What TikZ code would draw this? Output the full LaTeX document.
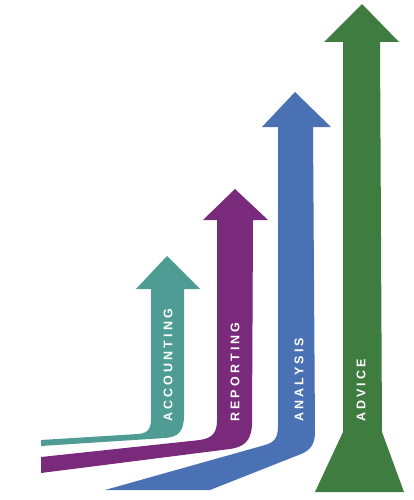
\documentclass[tikz,border=0pt]{standalone}
\usepackage{fontspec}
\setmainfont{Liberation Sans}
\newfontfamily\steplabelfont[LetterSpace=25]{Liberation Sans}
\usepackage{tikz}
\usetikzlibrary{positioning,calc}
\definecolor{acctcol}{HTML}{4E9C93}
\definecolor{repcol}{HTML}{7A2A7B}
\definecolor{anacol}{HTML}{4A71B4}
\definecolor{advcol}{HTML}{3E7D3F}

\begin{document}
\begin{tikzpicture}[x=1pt, y=-1pt,
    steplabel/.style={white, rotate=90, anchor=west, inner sep=0pt,
      font=\steplabelfont\bfseries\fontsize{12.5}{14}\selectfont}]
  \useasboundingbox (0,0) rectangle (414,500);
  % accounting
  \fill[acctcol] (41,440) -- (138,434) .. controls (149,433) and (151,428) .. (151,418)
    -- (151,289) -- (136,289) -- (167,256) -- (200,289) -- (184,289) -- (184,415)
    .. controls (184,432) and (178,437) .. (165,438) -- (41,446) -- cycle;
  % reporting
  \fill[repcol] (41,457) -- (200,440) .. controls (213,438) and (217,432) .. (217,420)
    -- (217,220) -- (203,220) -- (235,189) -- (268,220) -- (253,220) -- (252,425)
    .. controls (251,442) and (243,447) .. (230,449) -- (41,473) -- cycle;
  % analysis
  \fill[anacol] (105,490) -- (265,445) .. controls (276,442) and (278,436) .. (278,425)
    -- (278,127) -- (262,127) -- (295,92) -- (331,127) -- (313,127) -- (315,432)
    .. controls (315,447) and (308,452) .. (296,456) -- (210,490) -- cycle;
  % advice
  \fill[advcol] (315,492) -- (343,432) -- (343,42) -- (324,42) -- (362,4) -- (399,42)
    -- (380,42) -- (382,432) -- (404,492) -- cycle;
  \node[steplabel] (acct) at (168,422) {ACCOUNTING};
  \node[steplabel] (rep) at (235,422) {REPORTING};
  \node[steplabel] (ana) at (299,422) {ANALYSIS};
  \node[steplabel] (adv) at (361,422) {ADVICE};
\end{tikzpicture}
\end{document}
